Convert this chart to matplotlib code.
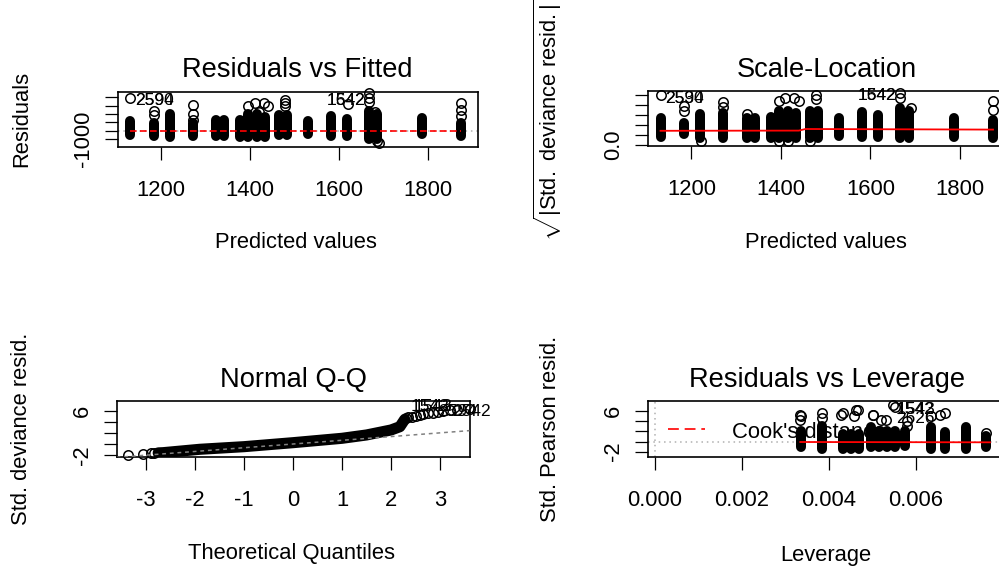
import matplotlib
matplotlib.use('Agg')
import matplotlib.pyplot as plt

plt.rcParams['font.family'] = ['Liberation Sans', 'DejaVu Sans']
plt.rcParams['mathtext.fontset'] = 'custom'
plt.rcParams['mathtext.rm'] = 'Liberation Sans'
plt.rcParams['mathtext.it'] = 'Liberation Sans'
plt.rcParams['axes.unicode_minus'] = False

# --- gia tri doc tu hinh ---
# cot diem theo gia tri du doan (dung chung cho 2 panel tren)
fitted = [1131, 1183, 1220, 1271, 1324, 1342, 1377, 1396, 1416, 1434,
          1465, 1483, 1530, 1581, 1618, 1667, 1686, 1787, 1874]

# Residuals vs Fitted
resid_lo = [-560, -680, -760, -680, -680, -680, -760, -760, -760, -760,
            -560, -560, -360, -680, -680, -960, -960, -360, -680]
resid_hi = [1160, 960, 1960, 880, 1280, 1280, 1280, 1960, 1960, 1600,
            1840, 1840, 1160, 1760, 1360, 2360, 2000, 1560, 960]
resid_out_x = [1131, 1183, 1183, 1271, 1271, 1271, 1396, 1410, 1430, 1420, 1440,
               1478, 1478, 1478, 1620, 1667, 1667, 1667, 1680, 1686, 1690,
               1874, 1874, 1874]
resid_out_y = [3900, 2380, 1900, 3020, 1980, 1300, 2900, 3300, 3300, 2220, 2900,
               3300, 3700, 2900, 3180, 4500, 3900, 3400, 2220, -1300, -1500,
               3300, 2500, 1800]
smooth_rf_x = [1131, 1874]
smooth_rf_y = [0, 0]

# Scale-Location
sl_lo = [0.41, 0.575, 0.375, 0.33, 0.375, 0.375, 0.33, 0.33, 0.33, 0.33,
         0.33, 0.33, 0.44, 0.41, 0.41, 0.33, 0.33, 0.41, 0.33]
sl_hi = [1.375, 1.125, 1.54, 1.59, 1.375, 1.375, 1.4, 1.71, 1.71, 1.6,
         1.71, 1.71, 1.33, 1.66, 1.5, 1.875, 1.7, 1.375, 1.27]
sl_out_x = [1131, 1183, 1183, 1271, 1271, 1324, 1396, 1410, 1430, 1440,
            1478, 1478, 1667, 1667, 1690, 1874, 1874, 1222, 1396, 1416, 1465]
sl_out_y = [2.48, 1.93, 1.72, 2.15, 1.9, 1.55, 2.18, 2.35, 2.35, 2.18,
            2.5, 2.3, 2.6, 2.35, 1.85, 2.18, 1.77, 0.22, 0.2, 0.2, 0.2]
smooth_sl_x = [1131, 1440, 1455, 1874]
smooth_sl_y = [0.71, 0.72, 0.80, 0.77]

# Normal Q-Q
qq_band_x = [-2.75, -2.65, -1.9, -1.0, 0.0, 1.0, 1.5, 2.0, 2.18, 2.28]
qq_band_y = [-1.55, -1.51, -0.90, -0.43, 0.29, 1.08, 1.68, 2.58, 3.17, 4.5]
qq_pts_x = [-3.37, -3.05, -2.9, -2.83, 2.3, 2.35, 2.42, 2.5, 2.58, 2.66, 2.75,
            2.85, 2.95, 3.05, 3.2, 3.35, 3.6]
qq_pts_y = [-1.85, -1.7, -1.62, -1.6, 4.7, 4.9, 5.0, 5.1, 5.25, 5.4, 5.55,
            5.7, 5.9, 6.05, 6.15, 6.2, 6.3]
qq_line_x = [-3.6, 3.6]
qq_line_y = [0.05 - 0.67 * 3.6, 0.05 + 0.67 * 3.6]

# Residuals vs Leverage
lev = [0.003345, 0.00384, 0.00432, 0.00451, 0.00469, 0.00497, 0.00515, 0.00533,
       0.00552, 0.00575, 0.00635, 0.00667, 0.00714, 0.0076]
lev_lo = [-1.04, -1.38, -1.38, -1.38, -1.38, -1.04, -1.04, -1.04,
          -1.04, -0.93, -1.38, -1.38, -1.57, -1.04]
lev_hi = [2.1, 3.1, 1.44, 1.44, 1.44, 2.76, 2.0, 2.0,
          2.0, 2.07, 2.76, 1.8, 2.95, 1.12]
lev_out_x = [0.00334, 0.00334, 0.00336, 0.00384, 0.00384, 0.00428, 0.00432, 0.00462,
             0.00467, 0.00458, 0.00500, 0.00502, 0.00519, 0.00530, 0.00547, 0.00552,
             0.00580, 0.00580, 0.00635, 0.00655, 0.00667, 0.0076]
lev_out_y = [5.3, 4.3, 5.1, 5.6, 4.6, 5.2, 5.6, 6.26,
             6.2, 5.0, 5.2, 5.3, 4.3, 4.3, 7.24, 6.85,
             4.0, 3.0, 5.0, 5.2, 5.6, 1.6]
smooth_lev_x = [0.00334, 0.0077]
smooth_lev_y = [-0.1, -0.16]

# nhan diem
rf_labels = [('2594', 1131, 3900, 'left'), ('2590', 1131, 3900, 'left'),
             ('1542', 1667, 3900, 'right'), ('1642', 1667, 3900, 'right')]
sl_labels = [('2594', 1131, 2.48, 'left'), ('2530', 1131, 2.48, 'left'),
             ('1542', 1667, 2.6, 'right'), ('1642', 1667, 2.6, 'right')]
qq_labels = [('1542', 2.39, 6.77), ('1543', 2.45, 6.77),
             ('2594', 2.96, 5.87), ('2542', 3.24, 5.87)]
lev_labels = [('1542', 0.00554, 6.2), ('1543', 0.00556, 6.2), ('2626', 0.00554, 4.6)]

# truc
rf_yticks = [-1000, 0, 1000, 2000, 3000, 4000]
rf_ylabels = ['-1000', '', '', '', '', '']
fit_xticks = [1200, 1400, 1600, 1800]
sl_yticks = [0.0, 0.5, 1.0, 1.5, 2.0, 2.5]
sl_ylabels = ['0.0', '', '', '', '', '']
qq_xticks = [-3, -2, -1, 0, 1, 2, 3]
resid_yticks = [-2, 0, 2, 4, 6]
resid_ylabels = ['-2', '', '', '', '6']
lev_xticks = [0.000, 0.002, 0.004, 0.006]
lev_xlabels = ['0.000', '0.002', '0.004', '0.006']

# --- ve ---
W, H = 999, 570
fig = plt.figure(figsize=(W / 100, H / 100), dpi=100)

COL_LW = 7.2
LAB = 15.8
TIT = 19.6


def them_truc(left, top, width, height):
    ax = fig.add_axes([left / W, 1 - (top + height) / H, width / W, height / H])
    for s in ax.spines.values():
        s.set_linewidth(1.2)
    ax.tick_params(direction='out', length=9.4, width=0.9, labelsize=LAB)
    ax.tick_params(axis='x', pad=14.5)
    ax.tick_params(axis='y', pad=8, labelrotation=90)
    return ax


def ve_cot(ax, xs, lo, hi):
    ax.vlines(xs, lo, hi, colors='black', linewidth=COL_LW, capstyle='round', zorder=3)


def ve_diem(ax, xs, ys):
    ax.plot(xs, ys, 'o', mfc='none', mec='black', ms=6.8, mew=1.1, zorder=3, clip_on=False)


def chu(x, y, s, size, rot=0):
    fig.text(x / W, 1 - y / H, s, ha='center', va='center', fontsize=size, rotation=rot)


def nhan(ax, items):
    for s, x, y, side in items:
        dx = 5 if side == 'left' else -4
        ax.annotate(s, (x, y), xytext=(dx * 0.72, -2), textcoords='offset points',
                    ha=side, va='center', fontsize=12.5, zorder=5, annotation_clip=False)


# Residuals vs Fitted
ax1 = them_truc(118, 92, 360, 55)
ax1.axhline(0, color='#b0b0b0', lw=1.1, dashes=(1, 2.5), zorder=2)
ve_cot(ax1, fitted, resid_lo, resid_hi)
ve_diem(ax1, resid_out_x, resid_out_y)
ax1.plot(smooth_rf_x, smooth_rf_y, color='red', lw=1.2, dashes=(4, 2), zorder=4)
nhan(ax1, rf_labels)
ax1.set_xlim(1103, 1912)
ax1.set_ylim(-1980, 4620)
ax1.set_xticks(fit_xticks)
ax1.set_yticks(rf_yticks, rf_ylabels, rotation=90, va='center')

# Scale-Location
ax2 = them_truc(648, 91, 362, 55)
ve_cot(ax2, fitted, sl_lo, sl_hi)
ve_diem(ax2, sl_out_x, sl_out_y)
ax2.plot(smooth_sl_x, smooth_sl_y, color='red', lw=1.3, zorder=4)
nhan(ax2, sl_labels)
ax2.set_xlim(1103, 1912)
ax2.set_ylim(-0.05, 2.7)
ax2.set_xticks(fit_xticks)
ax2.set_yticks(sl_yticks, sl_ylabels, rotation=90, va='center')

# Normal Q-Q
ax3 = them_truc(117, 401, 353, 56)
ax3.plot(qq_band_x, qq_band_y, color='black', lw=8.0, solid_capstyle='round',
         solid_joinstyle='round', zorder=3)
ve_diem(ax3, qq_pts_x, qq_pts_y)
ax3.plot(qq_line_x, qq_line_y, color='#808080', lw=1.1, dashes=(2.5, 2.5), zorder=4)
for s, x, y in qq_labels:
    ax3.text(x, y, s, ha='left', va='center', fontsize=12.5, zorder=5, clip_on=False)
ax3.set_xlim(-3.59, 3.61)
ax3.set_ylim(-2.29, 7.8)
ax3.set_xticks(qq_xticks)
ax3.set_yticks(resid_yticks, resid_ylabels, rotation=90, va='center')

# Residuals vs Leverage
ax4 = them_truc(648, 401, 362, 56)
ax4.axhline(0, color='#b0b0b0', lw=1.1, dashes=(1, 2.5), zorder=2)
ax4.axvline(0, color='#b0b0b0', lw=1.1, dashes=(1, 2.5), zorder=2)
ax4.text(0.232, 0.446, "Cook's distance", transform=ax4.transAxes, ha='left',
         va='center', fontsize=LAB, zorder=1)
ax4.plot([0.055, 0.157], [0.5, 0.5], transform=ax4.transAxes, color='red',
         lw=1.2, dashes=(6.5, 3.5), zorder=2)
ve_cot(ax4, lev, lev_lo, lev_hi)
ve_diem(ax4, lev_out_x, lev_out_y)
ax4.plot(smooth_lev_x, smooth_lev_y, color='red', lw=1.3, zorder=4)
for s, x, y in lev_labels:
    ax4.text(x, y, s, ha='left', va='center', fontsize=12.5, zorder=5, clip_on=False)
ax4.set_xlim(-0.000161, 0.00816)
ax4.set_ylim(-3.05, 7.97)
ax4.set_xticks(lev_xticks, lev_xlabels)
ax4.set_yticks(resid_yticks, resid_ylabels, rotation=90, va='center')

# tieu de va nhan truc
chu(297, 70, 'Residuals vs Fitted', TIT)
chu(827, 70, 'Scale-Location', TIT)
chu(293, 380, 'Normal Q-Q', TIT)
chu(827, 380, 'Residuals vs Leverage', TIT)
chu(296, 243, 'Predicted values', LAB)
chu(826, 243, 'Predicted values', LAB)
chu(292, 553, 'Theoretical Quantiles', LAB)
chu(826, 556, 'Leverage', LAB)
chu(22, 119, 'Residuals', LAB, 90)
chu(548, 120, r'$\sqrt{|\mathrm{Std.\ deviance\ resid.}|}$', LAB, 90)
chu(22, 429, 'Std. deviance resid.', LAB, 90)
chu(551, 429, 'Std. Pearson resid.', LAB, 90)

fig.savefig('out.png', dpi=100)
